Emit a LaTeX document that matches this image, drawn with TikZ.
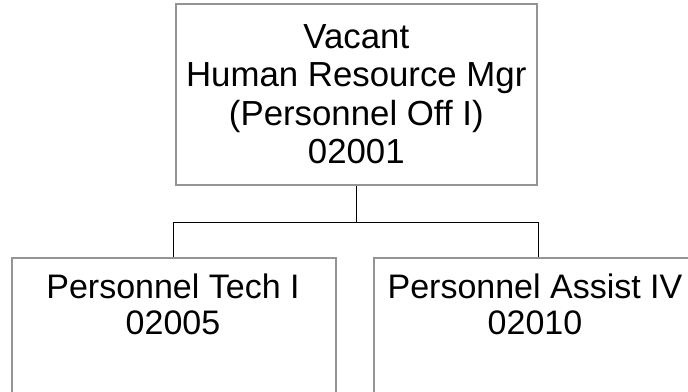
\documentclass[tikz,border=0pt]{standalone}
\usepackage{fontspec}
\setmainfont{Liberation Sans}
\definecolor{boxgray}{gray}{0.58}
\begin{document}
\begin{tikzpicture}[x=1pt,y=-1pt,
  box/.style={draw=boxgray, line width=1.6pt, rectangle, inner sep=0pt, anchor=north west},
  toplbl/.style={font=\fontsize{34.8}{38.3}\selectfont, align=center},
  lbl/.style={font=\fontsize{34}{36}\selectfont, align=center, inner sep=0pt, anchor=north},
  conn/.style={draw=black, line width=1.3pt}]
\useasboundingbox (0,0) rectangle (688,391);
\clip (0,0) rectangle (688,391);
\fill[white] (0,0) rectangle (688,391);
\node[box, toplbl, minimum width=361pt, minimum height=181pt] (top) at (175,3)
  {Vacant\\Human Resource Mgr\\(Personnel Off I)\\02001};
\node[box, minimum width=324pt, minimum height=200pt] (left) at (11,257) {};
\node[box, minimum width=330pt, minimum height=200pt] (right) at (373,257) {};
\node[lbl] (lefttext) at (173,274) {Personnel Tech I\\02005};
\node[lbl] (righttext) at (535,274) {Personnel Assist IV\\02010};
\coordinate (bus) at ([yshift=-37pt]top.south);
\draw[conn] (top.south) -- (bus);
\draw[conn] (left.north) |- (bus) -| (right.north);
\end{tikzpicture}
\end{document}
